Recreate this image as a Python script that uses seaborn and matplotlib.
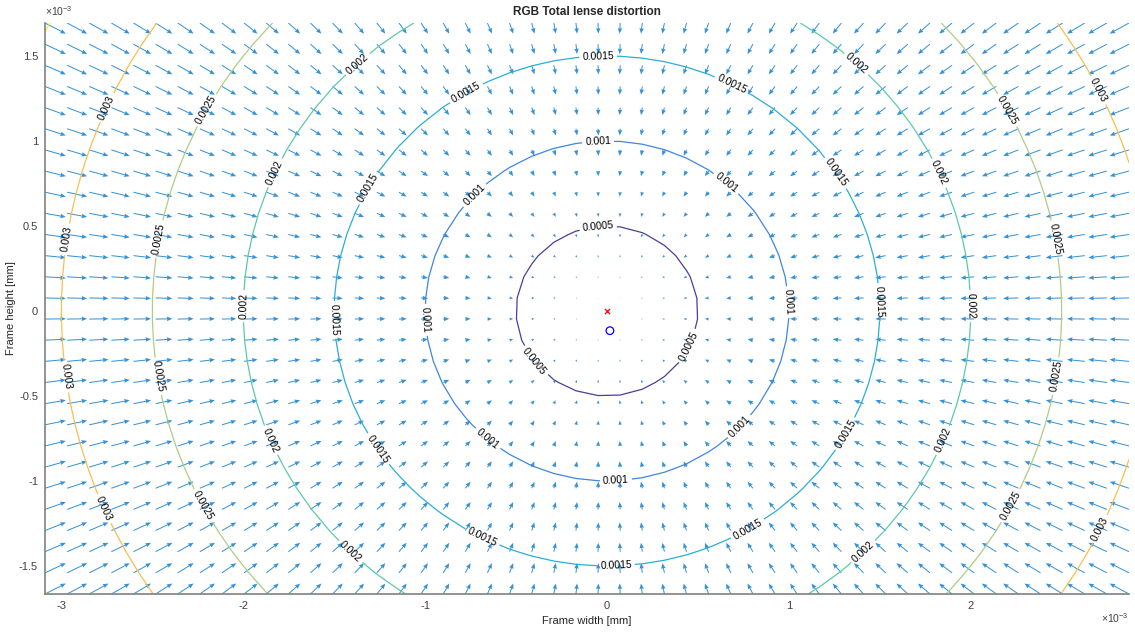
### Bibliotecas
import numpy as np
import matplotlib
matplotlib.use("Agg")
import matplotlib.pyplot as plt
from matplotlib.ticker import FuncFormatter
import seaborn as sns

### Dados (unidades do eixo, mm)
quadro_x = [-3.09e-3, 2.87e-3]          # limites da largura do quadro
quadro_y = [-1.665e-3, 1.694e-3]        # limites da altura do quadro
n_colunas = 50                          # setas por linha
n_linhas = 28                           # setas por coluna
ganho_radial = 1.0                      # distorcao ~ raio (contorno 0.001 passa em r = 1e-3)
niveis = [0.0005, 0.001, 0.0015, 0.002, 0.0025, 0.003, 0.0035]
cores_niveis = ["#4a3e98", "#3f86e0", "#2aaed8", "#5ccaa8", "#aecd84", "#f8bf4e", "#f4ee2a"]
ponto_principal = [0.0, 0.0]            # x vermelho
centro_distorcao = [0.016e-3, -0.116e-3]  # circulo azul
ticks_x = [-3e-3, -2e-3, -1e-3, 0.0, 1e-3, 2e-3]
ticks_y = [-1.5e-3, -1e-3, -0.5e-3, 0.0, 0.5e-3, 1e-3, 1.5e-3]

### Estilo
sns.set_style("white")
plt.rcParams["font.family"] = ["Liberation Sans", "DejaVu Sans"]
plt.rcParams["axes.unicode_minus"] = False
plt.rcParams["mathtext.default"] = "regular"

### Campo de distorcao
gx = np.linspace(quadro_x[0], quadro_x[1], n_colunas)
gy = np.linspace(quadro_y[0], quadro_y[1], n_linhas)
X, Y = np.meshgrid(gx, gy)
U = -ganho_radial * (X - ponto_principal[0])
V = -ganho_radial * (Y - ponto_principal[1])
M = np.hypot(U, V)

### Figura
fig = plt.figure(figsize=(11.35, 6.32), dpi=100)
ax = fig.add_axes([45 / 1135, 1 - 594 / 632, (1129 - 45) / 1135, (594 - 23) / 632])
ax.set_xlim(quadro_x)
ax.set_ylim(quadro_y)

ax.quiver(X, Y, U, V, angles="xy", scale_units="xy", scale=27,
          color="#3592d6", units="dots", width=1.0,
          headwidth=4.5, headlength=5.5, headaxislength=5, minlength=0.5)

cs = ax.contour(X, Y, M, levels=niveis, colors=cores_niveis, linewidths=0.9)

### Rotulos dos contornos a cada ~138 px ao longo da linha (como o clabel do MATLAB)
espaco = 138
posicoes = []
for segs in cs.allsegs:
    for seg in segs:
        if len(seg) < 2:
            continue
        pix = ax.transData.transform(seg)
        d = np.r_[0, np.cumsum(np.hypot(*np.diff(pix, axis=0).T))]
        L = d[-1]
        n = int(L // espaco)
        if n == 0:
            continue
        if np.allclose(seg[0], seg[-1]):
            s0 = d[np.argmax(seg[:, 1])]
            ss = (s0 + np.arange(n) * L / n) % L
        else:
            ss = (L - (n - 1) * espaco) / 2 + np.arange(n) * espaco
        for s in ss:
            posicoes.append((np.interp(s, d, seg[:, 0]), np.interp(s, d, seg[:, 1])))
ax.clabel(cs, manual=posicoes, inline=True, inline_spacing=3, fontsize=7.5,
          fmt="%g", colors="k")

### Marcadores
sns.scatterplot(x=[ponto_principal[0]], y=[ponto_principal[1]], marker="x",
                color="red", s=14, linewidth=0.9, ax=ax, zorder=5)
sns.scatterplot(x=[centro_distorcao[0]], y=[centro_distorcao[1]], marker="o",
                facecolor="none", edgecolor="blue", s=30, linewidth=0.9, ax=ax, zorder=5)

### Eixos
ax.set_xticks(ticks_x)
ax.set_yticks(ticks_y)
fmt = FuncFormatter(lambda v, p: f"{v * 1e3:g}")
ax.xaxis.set_major_formatter(fmt)
ax.yaxis.set_major_formatter(fmt)
ax.tick_params(direction="in", length=5, width=1, color="#4d4d4d",
               labelsize=8, labelcolor="#404040", pad=5)
for lado in ["top", "right"]:
    ax.spines[lado].set_visible(False)
for lado in ["left", "bottom"]:
    ax.spines[lado].set_color("#808080")
    ax.spines[lado].set_linewidth(1.2)

ax.text(0, 1.008, r"$\times10^{-3}$", transform=ax.transAxes, ha="left",
        va="bottom", fontsize=7.5, color="#404040")
ax.text(1.0, -0.03, r"$\times10^{-3}$", transform=ax.transAxes, ha="right",
        va="top", fontsize=7.5, color="#404040")

ax.set_title("RGB Total lense distortion", fontsize=8.5, fontweight="bold", pad=6)
ax.set_xlabel("Frame width [mm]", fontsize=8, color="#262626", labelpad=4)
ax.set_ylabel("Frame height [mm]", fontsize=8, color="#262626", labelpad=2)

fig.savefig("out.png", dpi=100)
